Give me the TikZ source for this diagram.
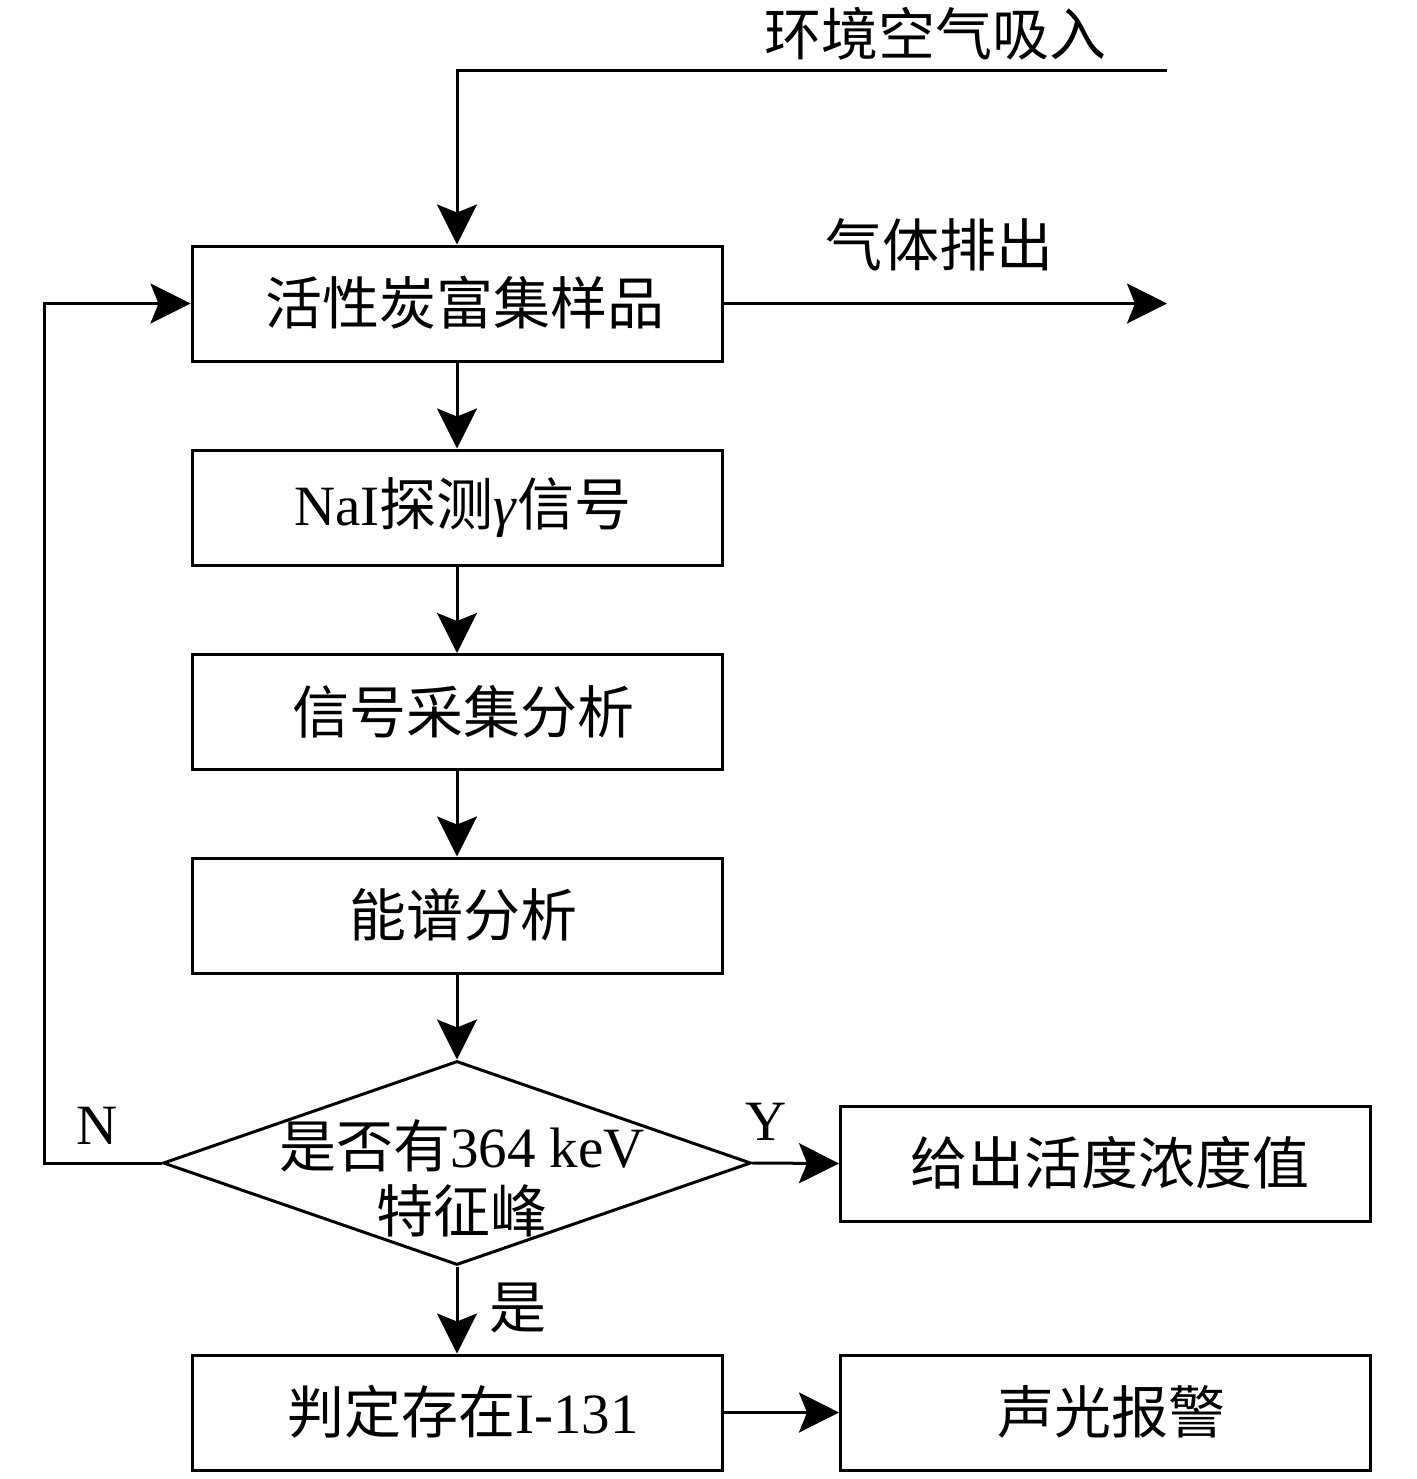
\documentclass[tikz,border=0pt]{standalone}
\usepackage{fontspec}
\setmainfont{Liberation Serif}
\newfontfamily\cjk{Noto Sans CJK SC}
\usetikzlibrary{arrows.meta,shapes.geometric}
\begin{document}
\begin{tikzpicture}[x=0.5pt,y=-0.5pt,
  every node/.style={font=\fontsize{28.5}{32.5}\selectfont},
  stepbox/.style={draw,line width=1.5pt,minimum width=265pt,minimum height=57.5pt,inner sep=0pt},
  decbox/.style={draw,diamond,line width=1.5pt,minimum width=294pt,minimum height=102pt,inner sep=0pt},
  plain/.style={inner sep=0pt},
  conn/.style={line width=1.5pt,-{Stealth[length=20pt,width=20pt,inset=4pt]}},
  wire/.style={line width=1.5pt}]
\useasboundingbox (0,0) rectangle (1417,1479);

\node[stepbox] (b1) at (457,303.5) {};
\node[plain] (t1) at (465,303) {\cjk 活性炭富集样品};
\node[stepbox] (b2) at (457,507.5) {};
\node[plain] (t2) at (463,508) {NaI{\cjk 探测}\textit{γ}{\cjk 信号}};
\node[stepbox] (b3) at (457,712) {};
\node[plain] (t3) at (463,712) {\cjk 信号采集分析};
\node[stepbox] (b4) at (457,915.5) {};
\node[plain] (t4) at (463,915) {\cjk 能谱分析};
\node[decbox] (dec) at (457,1163) {};
\node[plain,align=center] (dt) at (462,1178) {{\cjk 是否有}364 keV\\{\cjk 特征峰}};
\node[stepbox] (yes) at (1105.5,1163.5) {};
\node[plain] (tyes) at (1110,1163) {\cjk 给出活度浓度值};
\node[stepbox] (b5) at (457,1412.5) {};
\node[plain] (t5) at (463,1412) {{\cjk 判定存在}I-131};
\node[stepbox] (alarm) at (1105.5,1412.5) {};
\node[plain] (t6) at (1111,1412) {\cjk 声光报警};

\node[plain] (lin) at (935,34) {\cjk 环境空气吸入};
\node[plain] (lout) at (939,245) {\cjk 气体排出};
\node[plain] (ln) at (97,1126) {N};
\node[plain] (ly) at (766,1122) {Y};
\node[plain] (lshi) at (518,1308) {\cjk 是};

\coordinate (cin) at (1167,70);
\coordinate (cout) at (1167,303.5);
\coordinate (cloop) at (44,1163);

\draw[conn] (cin) -| (b1.north);
\draw[conn] (b1.east) -- (cout);
\draw[conn] (b1.south) -- (b2.north);
\draw[conn] (b2.south) -- (b3.north);
\draw[conn] (b3.south) -- (b4.north);
\draw[conn] (b4.south) -- (dec.north);
\draw[conn] (dec.east) -- (yes.west);
\draw[conn] (dec.south) -- (b5.north);
\draw[conn] (b5.east) -- (alarm.west);
\draw[conn] (dec.west) -- (cloop) |- (b1.west);
\end{tikzpicture}
\end{document}
